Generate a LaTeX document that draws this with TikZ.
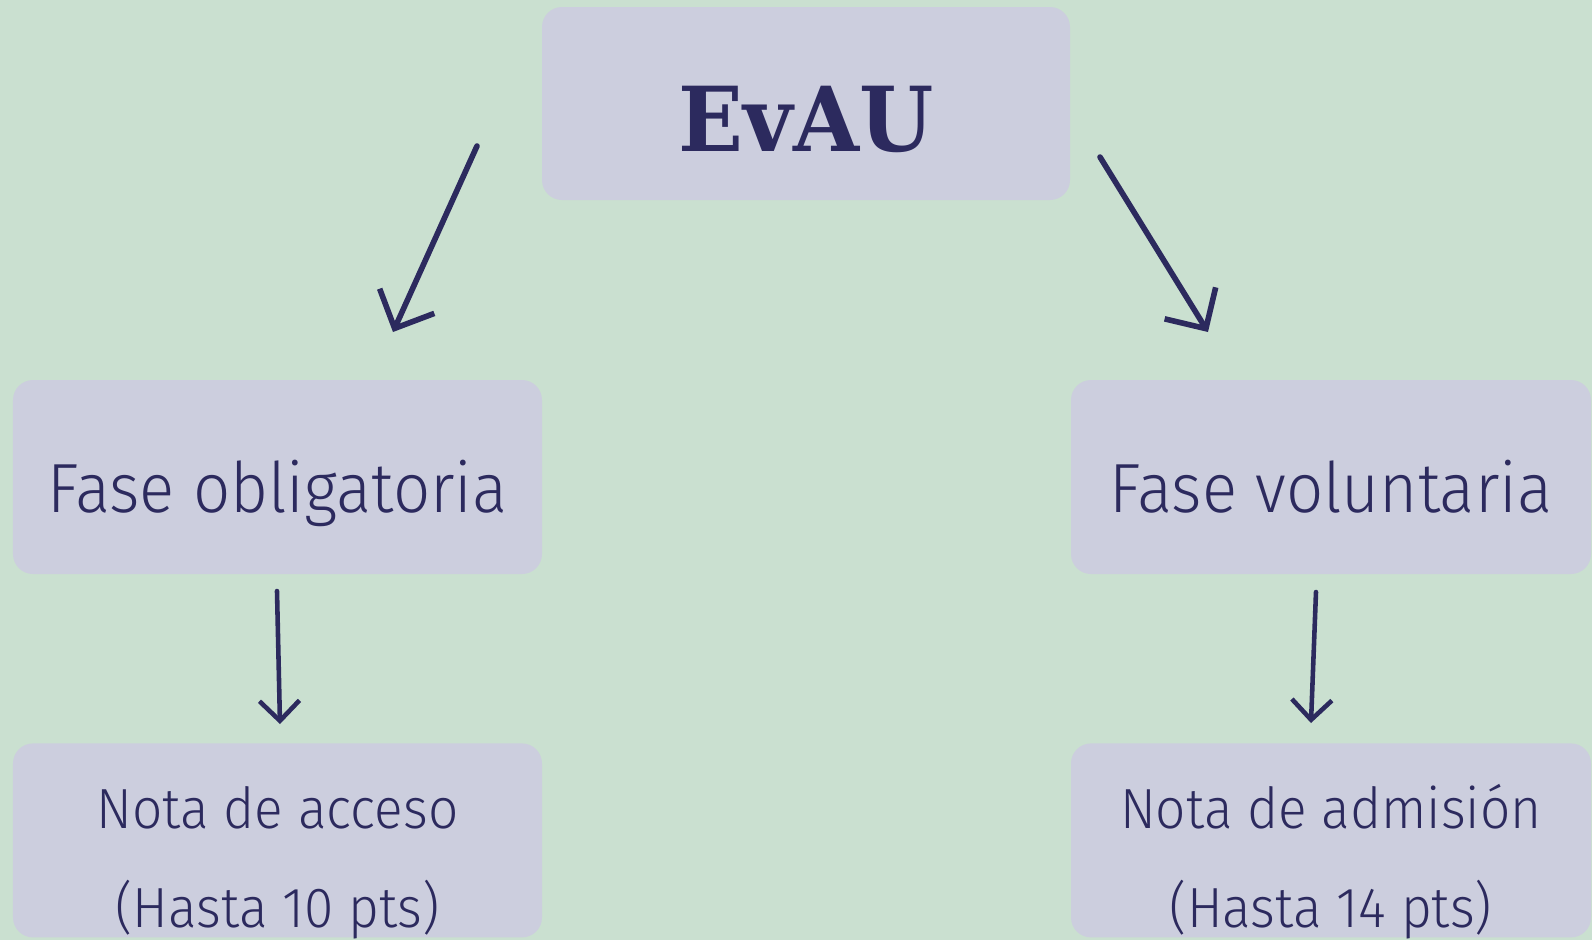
\documentclass[tikz,border=0pt]{standalone}
\usepackage{fontspec}
\IfFontExistsTF{Fira Sans Light}{\setmainfont{Fira Sans Light}[FakeStretch=0.94]}{\setmainfont{Fira Sans}[FakeStretch=0.94]}
\newfontfamily\slabfont{DejaVu Serif}[FakeStretch=0.95]
\usetikzlibrary{arrows.meta,positioning}
\definecolor{evgreen}{RGB}{202,224,208}
\definecolor{evlilac}{RGB}{204,206,222}
\definecolor{evnavy}{RGB}{44,42,94}
\tikzstyle{fase} = [rectangle, rounded corners=0.2cm, minimum width=5.29cm, minimum height=1.94cm, inner sep=0pt, fill=evlilac, text=evnavy, text centered]
\tikzstyle{arrow} = [line width=1.6pt, -{Straight Barb[length=3mm,width=6mm]}, color=evnavy, line cap=round]
\tikzstyle{smallarrow} = [line width=1.3pt, -{Straight Barb[length=2mm,width=4mm]}, color=evnavy, line cap=round]

\begin{document}
\begin{tikzpicture}
\fill[evgreen] (0,0) rectangle (15.92,-9.40);
\useasboundingbox (0,0) rectangle (15.92,-9.40);

% EvAU
\node (evau) [fase, minimum width=5.28cm, minimum height=1.93cm, text height=0.95cm, text depth=0pt, font=\slabfont\bfseries\fontsize{25.5}{26}\selectfont] at (8.06,-1.035) {EvAU};

% Fases
\node (oblig) [fase, text height=0.70cm, text depth=0pt, font=\fontsize{19.8}{24}\selectfont] at (2.775,-4.77) {Fase obligatoria};
\node (volun) [fase, minimum width=5.20cm, text height=0.70cm, text depth=0pt, font=\fontsize{19.8}{24}\selectfont] at (13.31,-4.77) {Fase voluntaria};

% Notas
\node (acceso) [fase, below=1.68cm of oblig, align=center, text height=1.74cm, text depth=0pt, font=\fontsize{16.1}{28.2}\selectfont] {Nota de acceso\\(Hasta 10 pts)};
\node (admision) [fase, below=1.68cm of volun, minimum width=5.20cm, align=center, text height=1.74cm, text depth=0pt, font=\fontsize{16.1}{28.2}\selectfont] {Nota de admisión\\(Hasta 14 pts)};

% arrows
\coordinate (l1) at (4.77,-1.46);
\coordinate (l2) at (3.93,-3.32);
\coordinate (r1) at (11.00,-1.57);
\coordinate (r2) at (12.08,-3.32);
\coordinate (l3) at (2.77,-5.91);
\coordinate (l4) at (2.80,-7.24);
\coordinate (r3) at (13.16,-5.92);
\coordinate (r4) at (13.11,-7.23);
\draw[arrow] (l1) -- (l2);
\draw[arrow] (r1) -- (r2);
\draw[smallarrow] (l3) -- (l4);
\draw[smallarrow] (r3) -- (r4);
\end{tikzpicture}
\end{document}
